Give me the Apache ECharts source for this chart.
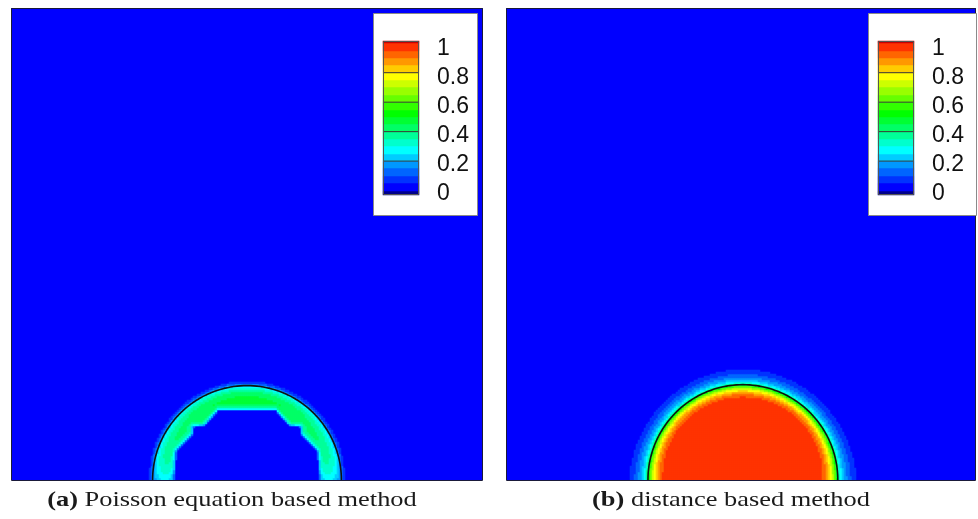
<!DOCTYPE html>
<html><head><meta charset="utf-8">
<script src="https://cdn.jsdelivr.net/npm/echarts@6/dist/echarts.min.js"></script>
<style>html,body{margin:0;padding:0;background:#fff}#c{width:978px;height:519px}</style>
</head><body><div id="c"></div>
<script>
// ---------------- data ----------------
const levelColors = ['#0000ff','#0033ff','#0066ff','#0099ff','#00ccff','#00ffff','#00ffcc','#00ff99','#00ff66','#00ff33',
                     '#00ff00','#33ff00','#66ff00','#99ff00','#ccff00','#ffff00','#ffcc00','#ff9900','#ff6600','#ff3300'];
const levelStep = 0.05;
const underColor = '#00008c';
const overColor = '#c80000';
const colorbarTicks = [0, 0.2, 0.4, 0.6, 0.8, 1];
const colorbarLines = [0.2, 0.4, 0.6, 0.8];
const colorbarRange = [-0.03, 1.015];
const captionTags = ['(a)', '(b)'];
const captionTexts = ['Poisson equation based method', 'distance based method'];

// interface circle: [cx, cy, r] (domain units, panel = unit square)
const circleA = [0.5, 0, 0.2];
const circleB = [0.504, 0, 0.202];

// panel (a): value vs depth inside the circle
const profileDepthA = [-0.014, -0.007, -0.003, 0, 0.004, 0.009, 0.015, 0.025, 0.06];
const profileValueA = [0, 0.07, 0.14, 0.24, 0.31, 0.37, 0.42, 0.465, 0.465];
// panel (a): inner (zero) region boundary
const innerEdgeA = [[0.347,-0.01],[0.347,0.002],[0.351,0.062],[0.386,0.097],[0.386,0.112],[0.411,0.115],[0.439,0.147],
                    [0.561,0.147],[0.589,0.115],[0.614,0.112],[0.614,0.097],[0.649,0.062],[0.653,0.002],[0.653,-0.01]];
const edgeDistA = [0, 0.003, 0.007, 0.014];
const edgeFactorA = [0.25, 0.6, 0.88, 1];
const heightA = [0, 0.02, 0.05, 0.1, 0.18];
const heightFactorA = [0.55, 0.7, 0.82, 0.88, 1];

// panel (b): value vs depth inside the circle
const profileDepthB = [-0.034, -0.027, -0.02, -0.012, -0.006, -0.002, 0, 0.004, 0.01, 0.016, 0.022, 0.028];
const profileValueB = [0.04, 0.07, 0.12, 0.18, 0.26, 0.36, 0.45, 0.6, 0.75, 0.85, 0.92, 0.97];
const heightB = [0, 0.05, 0.12, 0.2];
const widthScaleB = [1.25, 1.15, 1.05, 1];

// grid resolution (cells)
const cellsA = [236, 236];
const cellsB = [235, 236];
const colorbarRows = 154;

// ---------------- helpers ----------------
function interp(xs, ys, x) {
  if (x <= xs[0]) return ys[0];
  if (x >= xs[xs.length - 1]) return ys[ys.length - 1];
  for (let k = 1; k < xs.length; k++) {
    if (x <= xs[k]) { const t = (x - xs[k-1]) / (xs[k] - xs[k-1]); return ys[k-1] + t * (ys[k] - ys[k-1]); }
  }
  return ys[ys.length - 1];
}
function inPoly(x, y, p) {
  let c = false;
  for (let i = 0, j = p.length - 1; i < p.length; j = i++) {
    if (((p[i][1] > y) !== (p[j][1] > y)) && (x < (p[j][0] - p[i][0]) * (y - p[i][1]) / (p[j][1] - p[i][1]) + p[i][0])) c = !c;
  }
  return c;
}
function distPolyline(x, y, p) {
  let best = 1e9;
  for (let i = 0; i < p.length - 1; i++) {
    const ax = p[i][0], ay = p[i][1], bx = p[i+1][0], by = p[i+1][1];
    const dx = bx - ax, dy = by - ay;
    let t = ((x - ax) * dx + (y - ay) * dy) / (dx * dx + dy * dy);
    t = Math.max(0, Math.min(1, t));
    const ex = ax + t * dx - x, ey = ay + t * dy - y;
    best = Math.min(best, Math.sqrt(ex * ex + ey * ey));
  }
  return best;
}
function range(n) { return Array.from({length: n}, (_, i) => i); }

function fieldA() {
  const out = [];
  const [nx, ny] = cellsA;
  for (let i = 0; i < nx; i++) for (let j = 0; j < ny; j++) {
    const x = (i + 0.5) / nx, y = (j + 0.5) / ny;
    const r = Math.hypot(x - circleA[0], y - circleA[1]);
    const depth = circleA[2] - r;
    if (depth < profileDepthA[0] || depth > 0.08) continue;
    if (inPoly(x, y, innerEdgeA)) continue;
    let v = interp(profileDepthA, profileValueA, depth);
    v *= interp(edgeDistA, edgeFactorA, distPolyline(x, y, innerEdgeA));
    v *= interp(heightA, heightFactorA, y);
    if (v >= levelStep) out.push([i, j, v]);
  }
  return out;
}
function fieldB() {
  const out = [];
  const [nx, ny] = cellsB;
  for (let i = 0; i < nx; i++) for (let j = 0; j < ny; j++) {
    const x = (i + 0.5) / nx, y = (j + 0.5) / ny;
    const r = Math.hypot(x - circleB[0], y - circleB[1]);
    const s = interp(heightB, widthScaleB, y);
    const depth = (circleB[2] - r) / s;
    if (depth < profileDepthB[0]) continue;
    const v = interp(profileDepthB, profileValueB, depth);
    if (v >= levelStep) out.push([i, j, v]);
  }
  return out;
}
function semicircle(c) {
  const pts = [];
  for (let k = 0; k <= 180; k++) { const t = Math.PI * k / 180; pts.push([c[0] + c[2] * Math.cos(t), c[1] + c[2] * Math.sin(t)]); }
  return pts;
}
function colorbarData() {
  const out = [];
  const span = colorbarRange[1] - colorbarRange[0];
  for (let j = 0; j < colorbarRows; j++) out.push([0, j, colorbarRange[0] + (j + 0.5) * span / colorbarRows]);
  return out;
}

// ---------------- layout ----------------
const panels = [
  {left: 11, top: 8, width: 472, height: 472, cells: cellsA},
  {left: 506, top: 8, width: 470, height: 472, cells: cellsB}
];
const bars = [
  {left: 383, top: 41, width: 36, height: 154},
  {left: 878, top: 41, width: 36, height: 154}
];
const boxes = [
  {x: 373, y: 13, width: 104, height: 202},
  {x: 868, y: 13, width: 108, height: 202}
];
const captionPos = [[232, 500], [731, 500]];

const pieces = [{lt: 0, color: underColor}];
levelColors.forEach((c, k) => {
  const lo = +(k * levelStep).toFixed(2), hi = +((k + 1) * levelStep).toFixed(2);
  pieces.push({gte: lo, lt: hi, color: c});
});
pieces.push({gte: 1, color: overColor});

const grids = [], xAxes = [], yAxes = [], series = [];

panels.forEach((p, k) => {
  grids.push({left: p.left, top: p.top, width: p.width, height: p.height, show: true, backgroundColor: '#0000ff', borderWidth: 0});
  const g = grids.length - 1;
  xAxes.push({type: 'category', gridIndex: g, data: range(p.cells[0]), show: false});
  yAxes.push({type: 'category', gridIndex: g, data: range(p.cells[1]), show: false});
  xAxes.push({type: 'value', gridIndex: g, min: 0, max: 1, show: false});
  yAxes.push({type: 'value', gridIndex: g, min: 0, max: 1, show: false});
  series.push({type: 'heatmap', xAxisIndex: xAxes.length - 2, yAxisIndex: yAxes.length - 2,
    data: k === 0 ? fieldA() : fieldB(), progressive: 0, z: 2, silent: true});
  series.push({type: 'line', xAxisIndex: xAxes.length - 1, yAxisIndex: yAxes.length - 1,
    data: semicircle(k === 0 ? circleA : circleB), showSymbol: false, smooth: false, z: 3, silent: true,
    lineStyle: {color: '#111', width: 1.6}});
});
bars.forEach((b) => {
  grids.push({left: b.left, top: b.top, width: b.width, height: b.height});
  const g = grids.length - 1;
  xAxes.push({type: 'category', gridIndex: g, data: ['c'], show: false});
  yAxes.push({type: 'category', gridIndex: g, data: range(colorbarRows), show: false});
  xAxes.push({type: 'value', gridIndex: g, min: 0, max: 1, show: false});
  yAxes.push({type: 'value', gridIndex: g, min: colorbarRange[0], max: colorbarRange[1], show: false});
  series.push({type: 'heatmap', xAxisIndex: xAxes.length - 2, yAxisIndex: yAxes.length - 2,
    data: colorbarData(), progressive: 0, z: 10, silent: true});
  colorbarLines.forEach((v) => {
    series.push({type: 'line', xAxisIndex: xAxes.length - 1, yAxisIndex: yAxes.length - 1,
      data: [[0, v], [1, v]], showSymbol: false, z: 11, silent: true,
      lineStyle: {color: '#3a3a3a', width: 1}});
  });
  // label axis
  grids.push({left: b.left, top: b.top, width: b.width, height: b.height - 1});
  const g2 = grids.length - 1;
  xAxes.push({type: 'value', gridIndex: g2, min: 0, max: 1, show: false});
  yAxes.push({type: 'value', gridIndex: g2, min: 0, max: 1.05, interval: 0.2, position: 'right', z: 12,
    axisLine: {show: false}, axisTick: {show: false}, splitLine: {show: false},
    axisLabel: {show: true, margin: 18, fontSize: 23, fontFamily: 'Liberation Sans', color: '#111', showMaxLabel: false,
      formatter: (v) => colorbarTicks.some(t => Math.abs(t - v) < 1e-6) ? String(+v.toFixed(1)) : ''}});
});

const heatIdx = series.map((s, i) => s.type === 'heatmap' ? i : -1).filter(i => i >= 0);

const graphics = [];
boxes.forEach((b) => graphics.push({type: 'rect', z: 5, shape: {x: b.x + 0.5, y: b.y + 0.5, width: b.width, height: b.height},
  style: {fill: '#fff', stroke: '#8a8a8a', lineWidth: 1}}));
bars.forEach((b) => graphics.push({type: 'rect', z: 20, shape: {x: b.left + 0.5, y: b.top + 0.5, width: b.width - 1, height: b.height - 1},
  style: {fill: 'none', stroke: '#555', lineWidth: 1}}));
panels.forEach((p) => graphics.push({type: 'rect', z: 4, shape: {x: p.left + 0.5, y: p.top + 0.5, width: p.width - 1, height: p.height},
  style: {fill: 'none', stroke: '#1a1a3a', lineWidth: 1}}));
captionTags.forEach((tag, k) => graphics.push({type: 'text', z: 5, x: captionPos[k][0], y: captionPos[k][1], scaleX: 1.2,
  style: {text: '{b|' + tag + '} ' + captionTexts[k], fontSize: 22, fontFamily: 'Liberation Serif', fill: '#1a1a1a',
    align: 'center', verticalAlign: 'middle',
    rich: {b: {fontSize: 22, fontFamily: 'Liberation Serif', fontWeight: 'bold', fill: '#1a1a1a'}}}}));

const chart = echarts.init(document.getElementById('c'), null, {renderer: 'canvas'});
chart.setOption({
  animation: false,
  backgroundColor: '#fff',
  grid: grids, xAxis: xAxes, yAxis: yAxes,
  visualMap: {type: 'piecewise', show: false, dimension: 2, seriesIndex: heatIdx, pieces: pieces},
  series: series,
  graphic: {elements: graphics}
});
</script></body></html>
